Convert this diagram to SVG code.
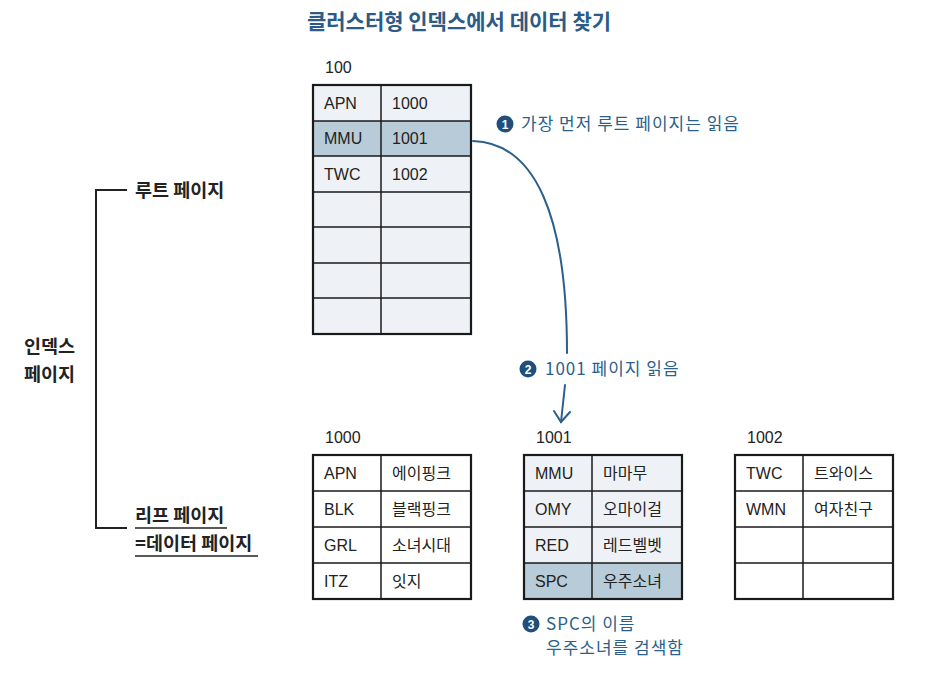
<svg xmlns="http://www.w3.org/2000/svg" width="927" height="678" viewBox="0 0 927 678">
<style>
.title{font-family:"Noto Sans CJK KR",sans-serif;font-weight:700;font-size:21px;fill:#2b5b86}
.lbl{font-family:"Noto Sans CJK KR",sans-serif;font-weight:700;font-size:18.5px;fill:#222}
.num{font-family:"Liberation Sans",Arial,sans-serif;font-size:16px;fill:#222}
.cell{font-family:"Liberation Sans","Noto Sans CJK KR",sans-serif;font-size:16px;fill:#222}
.kc{font-family:"Noto Sans CJK KR",sans-serif;font-size:16px;fill:#222}
.ann{font-family:"Noto Sans CJK KR",sans-serif;font-size:17px;letter-spacing:1px;fill:#2b5f8c}
.circ{fill:#1f4f7a}
.cn{font-family:"Liberation Sans",Arial,sans-serif;font-weight:700;font-size:12px;fill:#fff;text-anchor:middle}
.grid{stroke:#1a1a1a;stroke-width:1.5;fill:none}
.outer{stroke:#1a1a1a;stroke-width:2.2;fill:none}
.lt{fill:#eef2f6}
.hl{fill:#b8cbd8}
.wh{fill:#ffffff}
.con{stroke:#2b5f8c;stroke-width:2;fill:none;stroke-linecap:round}
</style>

<text class="title" x="459" y="29" text-anchor="middle">클러스터형 인덱스에서 데이터 찾기</text>

<g id="legend">
<path d="M127,190 H96 V528 H127" stroke="#222" stroke-width="2" fill="none"/>
<text class="lbl" x="135" y="197">루트 페이지</text>
<text class="lbl" x="24" y="353">인덱스</text>
<text class="lbl" x="24" y="381">페이지</text>
<text class="lbl" x="135" y="522">리프 페이지</text>
<line x1="135" y1="528" x2="227" y2="528" stroke="#222" stroke-width="1.5"/>
<text class="lbl" x="135" y="550">=데이터 페이지</text>
<line x1="135" y1="556" x2="258" y2="556" stroke="#222" stroke-width="1.5"/>
</g>

<g id="root">
<text class="num" x="325" y="73">100</text>
<rect class="lt" x="313" y="85" width="158" height="249"/>
<rect class="hl" x="313" y="121" width="158" height="35"/>
<g class="grid">
<line x1="381" y1="85" x2="381" y2="334"/>
<line x1="313" y1="121" x2="471" y2="121"/>
<line x1="313" y1="156" x2="471" y2="156"/>
<line x1="313" y1="192" x2="471" y2="192"/>
<line x1="313" y1="227" x2="471" y2="227"/>
<line x1="313" y1="263" x2="471" y2="263"/>
<line x1="313" y1="298" x2="471" y2="298"/>
</g>
<rect class="outer" x="313" y="85" width="158" height="249"/>
<text class="cell" x="324" y="109">APN</text><text class="cell" x="392" y="109">1000</text>
<text class="cell" x="324" y="144">MMU</text><text class="cell" x="392" y="144">1001</text>
<text class="cell" x="324" y="180">TWC</text><text class="cell" x="392" y="180">1002</text>
</g>

<g id="leaf1000">
<text class="num" x="325" y="443">1000</text>
<rect class="wh" x="313" y="455" width="158" height="144"/>
<g class="grid">
<line x1="381" y1="455" x2="381" y2="599"/>
<line x1="313" y1="491" x2="471" y2="491"/>
<line x1="313" y1="527" x2="471" y2="527"/>
<line x1="313" y1="563" x2="471" y2="563"/>
</g>
<rect class="outer" x="313" y="455" width="158" height="144"/>
<text class="cell" x="324" y="479">APN</text><text class="kc" x="392" y="479">에이핑크</text>
<text class="cell" x="324" y="515">BLK</text><text class="kc" x="392" y="515">블랙핑크</text>
<text class="cell" x="324" y="551">GRL</text><text class="kc" x="392" y="551">소녀시대</text>
<text class="cell" x="324" y="587">ITZ</text><text class="kc" x="392" y="587">잇지</text>
</g>

<g id="leaf1001">
<text class="num" x="536" y="443">1001</text>
<rect class="lt" x="524" y="455" width="158" height="144"/>
<rect class="hl" x="524" y="563" width="158" height="36"/>
<g class="grid">
<line x1="592" y1="455" x2="592" y2="599"/>
<line x1="524" y1="491" x2="682" y2="491"/>
<line x1="524" y1="527" x2="682" y2="527"/>
<line x1="524" y1="563" x2="682" y2="563"/>
</g>
<rect class="outer" x="524" y="455" width="158" height="144"/>
<text class="cell" x="535" y="479">MMU</text><text class="kc" x="603" y="479">마마무</text>
<text class="cell" x="535" y="515">OMY</text><text class="kc" x="603" y="515">오마이걸</text>
<text class="cell" x="535" y="551">RED</text><text class="kc" x="603" y="551">레드벨벳</text>
<text class="cell" x="535" y="587">SPC</text><text class="kc" x="603" y="587">우주소녀</text>
</g>

<g id="leaf1002">
<text class="num" x="747" y="443">1002</text>
<rect class="wh" x="735" y="455" width="158" height="144"/>
<g class="grid">
<line x1="803" y1="455" x2="803" y2="599"/>
<line x1="735" y1="491" x2="893" y2="491"/>
<line x1="735" y1="527" x2="893" y2="527"/>
<line x1="735" y1="563" x2="893" y2="563"/>
</g>
<rect class="outer" x="735" y="455" width="158" height="144"/>
<text class="cell" x="746" y="479">TWC</text><text class="kc" x="814" y="479">트와이스</text>
<text class="cell" x="746" y="515">WMN</text><text class="kc" x="814" y="515">여자친구</text>
</g>

<g id="connectors">
<path class="con" d="M473,141 C535,143 567,215 567,353"/>
<path class="con" d="M565,385 L561,422"/>
<path class="con" d="M554,411 L561,422 L570,412"/>
</g>

<g id="step1">
<circle class="circ" cx="505" cy="124" r="8.5"/>
<text class="cn" x="505" y="128.5">1</text>
<text class="ann" x="521" y="130">가장 먼저 루트 페이지는 읽음</text>
</g>
<g id="step2">
<circle class="circ" cx="528" cy="369" r="8.5"/>
<text class="cn" x="528" y="373.5">2</text>
<text class="ann" x="545" y="375">1001 페이지 읽음</text>
</g>
<g id="step3">
<circle class="circ" cx="531" cy="624" r="8.5"/>
<text class="cn" x="531" y="628.5">3</text>
<text class="ann" x="546" y="630">SPC의 이름</text>
<text class="ann" x="546" y="654">우주소녀를 검색함</text>
</g>
</svg>
